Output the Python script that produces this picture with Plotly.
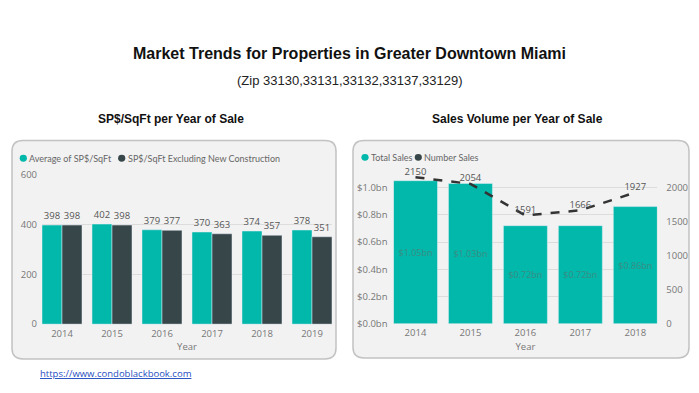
import plotly.graph_objects as go

W, H = 699, 393

# ---------------- data ----------------
years_left = ["2014", "2015", "2016", "2017", "2018", "2019"]
avg_sqft = [398, 402, 379, 370, 374, 378]
excl_new_sqft = [398, 398, 377, 363, 357, 351]
left_series_names = ["Average of SP$/SqFt", "SP$/SqFt Excluding New Construction"]

years_right = ["2014", "2015", "2016", "2017", "2018"]
total_sales_bn = [1.05, 1.03, 0.72, 0.72, 0.86]
number_sales = [2150, 2054, 1591, 1666, 1927]
right_series_names = ["Total Sales", "Number Sales"]

left_yticks = [0, 200, 400, 600]
right_yticks_bn = [0.0, 0.2, 0.4, 0.6, 0.8, 1.0]
right_y2ticks = [0, 500, 1000, 1500, 2000]

main_title = "Market Trends for Properties in Greater Downtown Miami"
sub_title = "(Zip 33130,33131,33132,33137,33129)"
left_title = "SP$/SqFt per Year of Sale"
right_title = "Sales Volume per Year of Sale"
source_url = "https://www.condoblackbook.com"

TEAL = "#01B8AA"
DARK = "#374649"
UI_FONT = "Open Sans"
LEGEND_FONT = "Lato"
TITLE_FONT = "Liberation Sans"


def px(x):
    return x / W


def py(y):
    return 1 - y / H


fig = go.Figure()

# ---------------- left chart ----------------
fig.add_trace(go.Bar(
    x=years_left, y=avg_sqft, name=left_series_names[0], marker_color=TEAL,
    text=[str(v) for v in avg_sqft], textposition="outside", cliponaxis=False,
    textfont=dict(family=UI_FONT, size=9.5, color="#555555"),
    xaxis="x", yaxis="y", showlegend=False))
fig.add_trace(go.Bar(
    x=years_left, y=excl_new_sqft, name=left_series_names[1], marker_color=DARK,
    text=[str(v) for v in excl_new_sqft], textposition="outside", cliponaxis=False,
    textfont=dict(family=UI_FONT, size=9.5, color="#555555"),
    xaxis="x", yaxis="y", showlegend=False))

# ---------------- right chart ----------------
fig.add_trace(go.Bar(
    x=years_right, y=total_sales_bn, name=right_series_names[0], marker_color=TEAL,
    text=["$%.2fbn" % v for v in total_sales_bn], textposition="inside",
    insidetextanchor="middle",
    textfont=dict(family=UI_FONT, size=9, color="#3b8c83"),
    xaxis="x2", yaxis="y2", showlegend=False))
fig.add_trace(go.Scatter(
    x=years_right, y=number_sales, name=right_series_names[1],
    mode="lines+text",
    line=dict(color="#333333", width=2.5, dash="dash"),
    text=[str(v) for v in number_sales], textposition="top center",
    textfont=dict(family=UI_FONT, size=9.5, color="#555555"),
    cliponaxis=False, xaxis="x2", yaxis="y3", showlegend=False))

axis_font = dict(family=UI_FONT, size=9.5, color="#777777")

fig.update_layout(
    width=W, height=H, autosize=False,
    margin=dict(l=0, r=0, t=0, b=0),
    paper_bgcolor="white", plot_bgcolor="rgba(0,0,0,0)",
    barmode="group", bargap=0.2, bargroupgap=0,
    showlegend=False,
    xaxis=dict(domain=[px(42), px(332)], anchor="y", type="category",
               range=[-0.4, 5.4], showgrid=False, showline=False, ticks="",
               tickfont=axis_font, ticklabelstandoff=2,
               title=dict(text="Year", font=axis_font, standoff=4)),
    yaxis=dict(domain=[py(328), py(173.5)], anchor="x", range=[0, 600],
               tickvals=left_yticks, showgrid=True, gridcolor="#dcdcdc",
               gridwidth=1, zeroline=False, showline=False, ticks="",
               tickfont=axis_font, ticklabelstandoff=4),
    xaxis2=dict(domain=[px(393.5), px(657.3)], anchor="y2", type="category",
                range=[-0.4, 4.4], showgrid=False, showline=False, ticks="",
                tickfont=axis_font, ticklabelstandoff=2,
                title=dict(text="Year", font=axis_font, standoff=4)),
    yaxis2=dict(domain=[py(327.7), py(172.6)], anchor="x2", range=[0, 1.1],
                tickvals=right_yticks_bn,
                ticktext=["$%.1fbn" % v for v in right_yticks_bn],
                showgrid=True, gridcolor="#dcdcdc", gridwidth=1,
                zeroline=False, showline=False, ticks="",
                tickfont=axis_font, ticklabelstandoff=5),
    yaxis3=dict(overlaying="y2", anchor="x2", side="right", range=[0, 2200],
                tickvals=right_y2ticks, showgrid=False, zeroline=False,
                showline=False, ticks="", tickfont=axis_font,
                ticklabelstandoff=8),
)


def rounded_rect(x0, y0, x1, y1, r=11):
    rx, ry = r / W, r / H
    X0, X1 = px(x0), px(x1)
    Y0, Y1 = py(y0), py(y1)  # Y0 top (higher), Y1 bottom
    return (f"M {X0+rx},{Y0} L {X1-rx},{Y0} Q {X1},{Y0} {X1},{Y0-ry} "
            f"L {X1},{Y1+ry} Q {X1},{Y1} {X1-rx},{Y1} "
            f"L {X0+rx},{Y1} Q {X0},{Y1} {X0},{Y1+ry} "
            f"L {X0},{Y0-ry} Q {X0},{Y0} {X0+rx},{Y0} Z")


for (x0, y0, x1, y1) in [(12, 138, 336, 364), (353, 138, 689, 363)]:
    fig.add_shape(type="path", xref="paper", yref="paper",
                  path=rounded_rect(x0, y0, x1, y1),
                  fillcolor="#f2f2f2", line=dict(color="#c2c2c2", width=1.5),
                  layer="below")

annos = [
    dict(x=px(349.5), y=py(48), text="<b>%s</b>" % main_title,
         font=dict(family=TITLE_FONT, size=16, color="#111111")),
    dict(x=px(349.5), y=py(76), text=sub_title,
         font=dict(family=TITLE_FONT, size=13, color="#222222")),
    dict(x=px(171), y=py(116), text="<b>%s</b>" % left_title,
         font=dict(family=TITLE_FONT, size=12, color="#111111")),
    dict(x=px(517), y=py(116), text="<b>%s</b>" % right_title,
         font=dict(family=TITLE_FONT, size=12, color="#111111")),
]
for a in annos:
    fig.add_annotation(xref="paper", yref="paper", showarrow=False,
                       xanchor="center", yanchor="middle", **a)

# legends: circle marker + label
legend_font = dict(family=LEGEND_FONT, size=9, color="#666666")
legend_items = [
    (23.3, 156.5, TEAL, left_series_names[0], 28),
    (121.7, 156.5, DARK, left_series_names[1], 126.7),
    (365, 155.5, TEAL, right_series_names[0], 370),
    (418.3, 155.5, DARK, right_series_names[1], 423.3),
]
R = 3.6
for cx, cy, col, name, tx in legend_items:
    fig.add_shape(type="circle", xref="paper", yref="paper",
                  x0=px(cx - R), x1=px(cx + R), y0=py(cy + R), y1=py(cy - R),
                  fillcolor=col, line=dict(width=0))
    fig.add_annotation(xref="paper", yref="paper", x=px(tx), y=py(cy),
                       xanchor="left", yanchor="middle", showarrow=False,
                       font=legend_font, text=name, xshift=-1)

fig.add_annotation(
    xref="paper", yref="paper", x=px(38), y=py(379), xanchor="left",
    yanchor="middle", showarrow=False,
    font=dict(family=UI_FONT, size=9.5, color="#1f4fbf"),
    text=f"<u>{source_url}</u>")

fig.write_html("out.html", config={"displayModeBar": False},
               post_script="document.body.style.margin='0';"
                           "document.body.style.overflow='hidden';")
